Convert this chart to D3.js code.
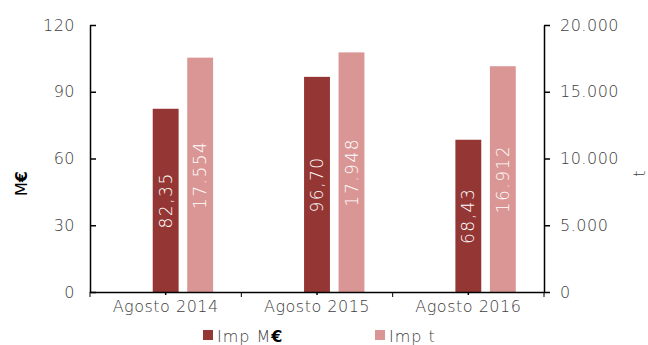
<!DOCTYPE html>
<html>
<head>
<meta charset="utf-8">
<script src="https://cdn.jsdelivr.net/npm/d3@7"></script>
<style>
  body { margin: 0; background: #fff; }
  text { font-family: "DejaVu Sans", sans-serif; font-weight: 200; fill: #404040; }
</style>
</head>
<body>
<svg id="drawing_region"></svg>
<script>
// data
const categories = ['Agosto 2014', 'Agosto 2015', 'Agosto 2016'];
const imp_meur = [82.35, 96.70, 68.43];
const imp_t = [17554, 17948, 16912];
const left_ticks = [0, 30, 60, 90, 120];
const right_ticks = [0, 5000, 10000, 15000, 20000];

const config = {
    width: 648,
    height: 345,
    margin: { top: 25, right: 104, bottom: 53, left: 90 }
};

const colors = { dark: '#943634', light: '#d99694' };

const svg = d3.select('#drawing_region')
    .attr('width', config.width)
    .attr('height', config.height);

const inner_width = config.width - config.margin.left - config.margin.right;
const inner_height = config.height - config.margin.top - config.margin.bottom;

const chart = svg.append('g')
    .attr('transform', `translate(${config.margin.left}, ${config.margin.top})`);

const xscale = d3.scaleBand()
    .domain(categories)
    .range([0, inner_width])
    .padding(0);

const yleft = d3.scaleLinear().domain([0, 120]).range([inner_height, 0]);
const yright = d3.scaleLinear().domain([0, 20000]).range([inner_height, 0]);

// three slots per category, the first one empty, so the dark bar sits on the tick
const slot = 34.5;
const sub = d3.scaleBand()
    .domain(['none', 'meur', 't'])
    .range([-1.5 * slot, 1.5 * slot])
    .paddingInner(0.25)
    .paddingOuter(0.125);

const fmt_meur = d => d3.format('.2f')(d).replace('.', ',');
const fmt_t = d => d3.format(',')(d).replace(/,/g, '.');

// bars
const groups = chart.selectAll('.grp').data(categories).enter()
    .append('g')
    .attr('transform', d => `translate(${xscale(d) + xscale.bandwidth() / 2}, 0)`);

groups.append('rect')
    .attr('x', sub('meur'))
    .attr('y', (d, i) => yleft(imp_meur[i]))
    .attr('width', sub.bandwidth())
    .attr('height', (d, i) => inner_height - yleft(imp_meur[i]))
    .style('fill', colors.dark);

groups.append('rect')
    .attr('x', sub('t'))
    .attr('y', (d, i) => yright(imp_t[i]))
    .attr('width', sub.bandwidth())
    .attr('height', (d, i) => inner_height - yright(imp_t[i]))
    .style('fill', colors.light);

// value labels inside bars
groups.append('text')
    .attr('transform', (d, i) => `translate(${sub('meur') + sub.bandwidth() / 2 + 6}, ${(yleft(imp_meur[i]) + inner_height) / 2}) rotate(-90)`)
    .attr('text-anchor', 'middle')
    .style('fill', '#fff')
    .style('font-size', '17px')
    .style('letter-spacing', '1.5px')
    .text((d, i) => fmt_meur(imp_meur[i]));

groups.append('text')
    .attr('transform', (d, i) => `translate(${sub('t') + sub.bandwidth() / 2 + 6}, ${(yright(imp_t[i]) + inner_height) / 2}) rotate(-90)`)
    .attr('text-anchor', 'middle')
    .style('fill', '#fff')
    .style('font-size', '17px')
    .style('letter-spacing', '1.5px')
    .text((d, i) => fmt_t(imp_t[i]));

// axes
const left_axis = d3.axisLeft(yleft).tickValues(left_ticks).tickSizeInner(-6).tickSizeOuter(0).tickPadding(15);
const right_axis = d3.axisRight(yright).tickValues(right_ticks).tickFormat(fmt_t).tickSizeInner(6).tickSizeOuter(0).tickPadding(10);

const lg = chart.append('g').call(left_axis);
const rg = chart.append('g').attr('transform', `translate(${inner_width}, 0)`).call(right_axis);

const xg = chart.append('g')
    .attr('transform', `translate(0, ${inner_height})`)
    .call(d3.axisBottom(xscale).tickSizeInner(3).tickSizeOuter(0).tickPadding(6));

// category boundary ticks
xg.selectAll('.bound').data(d3.range(categories.length + 1)).enter()
    .append('line')
    .attr('x1', i => i * xscale.step())
    .attr('x2', i => i * xscale.step())
    .attr('y1', 0)
    .attr('y2', 5)
    .attr('stroke', '#000');

[lg, rg, xg].forEach(g => {
    g.select('.domain').attr('stroke', '#000').attr('stroke-width', 1.5);
    g.selectAll('.tick line').attr('stroke', '#000').attr('stroke-width', 1.5);
    g.selectAll('.tick text')
        .style('font-family', '"DejaVu Sans", sans-serif')
        .style('font-weight', 200)
        .style('font-size', '16px')
        .style('letter-spacing', '0.5px')
        .style('fill', '#404040');
});

// axis titles
svg.append('text')
    .attr('transform', `translate(27, ${config.margin.top + inner_height / 2 + 25}) rotate(-90)`)
    .attr('text-anchor', 'middle')
    .style('font-size', '16px')
    .style('font-weight', 400)
    .style('fill', '#000')
    .text('M')
    .append('tspan')
    .style('font-weight', 'bold')
    .style('fill', '#000')
    .text('€');

svg.append('text')
    .attr('transform', `translate(645, ${config.margin.top + inner_height / 2 + 15}) rotate(-90)`)
    .attr('text-anchor', 'middle')
    .style('font-size', '16px')
    .text('t');

// legend
const legend_items = [
    { label: 'Imp M', color: colors.dark, x: 203 },
    { label: 'Imp t', color: colors.light, x: 375 }
];

const legend = svg.selectAll('.legend').data(legend_items).enter()
    .append('g')
    .attr('transform', d => `translate(${d.x}, 330)`);

legend.append('rect')
    .attr('width', 10)
    .attr('height', 10)
    .style('fill', d => d.color);

const ltext = legend.append('text')
    .attr('x', 14)
    .attr('y', 12)
    .style('font-size', '16px')
    .style('letter-spacing', '1px')
    .text(d => d.label);

ltext.filter((d, i) => i === 0)
    .append('tspan')
    .style('font-weight', 'bold')
    .style('fill', '#000')
    .text('€');
</script>
</body>
</html>
